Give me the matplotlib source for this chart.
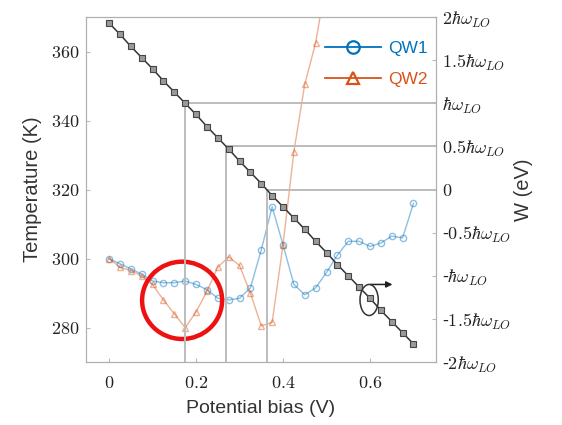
import matplotlib
matplotlib.use("Agg")
import matplotlib.pyplot as plt
from matplotlib.patches import Ellipse

plt.rcParams['mathtext.fontset'] = 'cm'
plt.rcParams['font.family'] = ['Liberation Sans', 'DejaVu Sans']

# bias sweep (V)
bias = [0.0, 0.025, 0.05, 0.075, 0.1, 0.125, 0.15, 0.175, 0.2, 0.225,
        0.25, 0.275, 0.3, 0.325, 0.35, 0.375, 0.4, 0.425, 0.45, 0.475,
        0.5, 0.525, 0.55, 0.575, 0.6, 0.625, 0.65, 0.675, 0.7]

# electron temperature (K)
qw1_temp = [300, 298.5, 297, 295.5, 293.5, 293, 293, 293.5, 292.5, 291,
            288.5, 288, 288.5, 291.5, 302.5, 315, 304, 292.5, 289.5, 291.5,
            296, 301, 305, 305, 303.5, 304.5, 306.5, 306, 316]
qw2_bias = bias[:21]
qw2_temp = [300, 297.5, 296.5, 295, 292.5, 288, 284, 280, 284.5, 290.5,
            297.5, 300.5, 298, 290, 280.5, 281.5, 304, 331, 350.5, 362.5,
            381]

# W in units of hbar*omega_LO
w_val = [1.93, 1.80, 1.66, 1.53, 1.40, 1.26, 1.13, 1.00, 0.87, 0.73,
         0.60, 0.47, 0.33, 0.20, 0.07, -0.07, -0.20, -0.33, -0.46, -0.60,
         -0.73, -0.87, -1.00, -1.13, -1.26, -1.40, -1.53, -1.66, -1.79]

# guide lines where W crosses hw_LO, 0.5 hw_LO and 0
guide_bias = [0.175, 0.269, 0.363]
guide_w = [1.0, 0.5, 0.0]

temp_ticks = [280, 300, 320, 340, 360]
bias_ticks = [0, 0.2, 0.4, 0.6]
bias_labels = ['0', '0.2', '0.4', '0.6']
w_ticks = [2, 1.5, 1, 0.5, 0, -0.5, -1, -1.5, -2]
w_labels = [r'$2\hbar\omega_{LO}$', r'$1.5\hbar\omega_{LO}$', r'$\hbar\omega_{LO}$',
            r'$0.5\hbar\omega_{LO}$', r'$0$', r'-$0.5\hbar\omega_{LO}$',
            r'-$\hbar\omega_{LO}$', r'-$1.5\hbar\omega_{LO}$', r'-$2\hbar\omega_{LO}$']

blue = '#0072BD'
orange = '#D95319'
grey = '#bcbcbc'

fig = plt.figure(figsize=(5.62, 4.25), dpi=100)
ax = fig.add_axes([0.153, 0.148, 0.623, 0.812])
ax2 = ax.twinx()

ax.plot(bias, qw1_temp, '-o', color=blue, alpha=0.45, lw=1, ms=4.5,
        mfc='none', mew=1)
ax.plot(qw2_bias, qw2_temp, '-^', color=orange, alpha=0.45, lw=1, ms=4.5,
        mfc='none', mew=1)

ax.set_xlim(-0.053, 0.752)
ax.set_ylim(270, 370)
ax2.set_ylim(-2, 2)

# guides
for b, w in zip(guide_bias, guide_w):
    ax2.plot([b, b], [-2, w], color=grey, lw=1.4, zorder=1)
    ax2.plot([b, 0.752], [w, w], color=grey, lw=1.4, zorder=1)

ax2.plot(bias, w_val, '-s', color='#333333', lw=1.1, ms=4,
         mfc='#9a9a9a', mec='#444444', mew=0.8, zorder=3)

# ellipse + arrow pointing to right axis
ax2.add_patch(Ellipse((0.598, -1.28), 0.042, 0.36, angle=0, fill=False,
                      ec='#333333', lw=1.1, zorder=4))
ax2.annotate('', xy=(0.658, -1.10), xytext=(0.594, -1.10),
             arrowprops=dict(arrowstyle='-|>', color='#222222', lw=1.1,
                             mutation_scale=9))

# red highlight circle
ax.add_patch(Ellipse((0.168, 287.9), 0.184, 22.4, fill=False, ec='#ee1111',
                     lw=3.2, zorder=5))

# legend
h1, = ax.plot([], [], '-o', color=blue, lw=1.3, ms=9, mfc='none', mew=1.6)
h2, = ax.plot([], [], '-^', color=orange, lw=1.3, ms=9, mfc='none', mew=1.6)
leg = ax.legend([h1, h2], ['QW1', 'QW2'], loc='upper right', frameon=False,
                fontsize=12.5, handlelength=3.2, handletextpad=0.4,
                labelspacing=0.9, bbox_to_anchor=(1.02, 0.975))
for t, c in zip(leg.get_texts(), [blue, orange]):
    t.set_color(c)

ax.set_xticks(bias_ticks)
ax.set_xticklabels(['$%s$' % s for s in bias_labels])
ax.set_yticks(temp_ticks)
ax.set_yticklabels(['$%d$' % t for t in temp_ticks])
ax2.set_yticks(w_ticks)
ax2.set_yticklabels(w_labels)

for a in (ax, ax2):
    a.tick_params(direction='in', length=3, color='#bbbbbb', labelsize=13,
                  labelcolor='#222222')
    for s in a.spines.values():
        s.set_color('#b0b0b0')
ax.tick_params(axis='x', pad=9)
ax.tick_params(axis='y', pad=5)
ax2.tick_params(axis='y', pad=4)

ax.set_xlabel('Potential bias (V)', fontsize=14, color='#333333', labelpad=6)
ax.set_ylabel('Temperature (K)', fontsize=14.5, color='#333333', labelpad=6)
ax2.set_ylabel('W (eV)', fontsize=14.5, color='#333333', labelpad=2)

fig.savefig('out.png', dpi=100)
